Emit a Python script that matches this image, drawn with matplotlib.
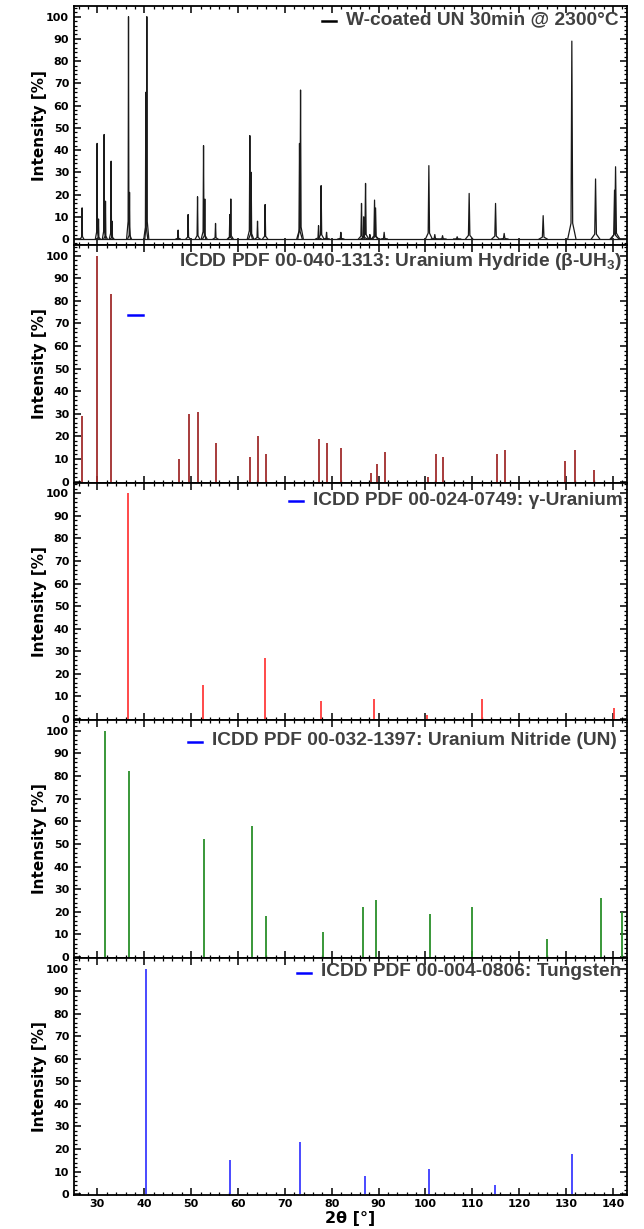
import matplotlib
matplotlib.use("Agg")
import matplotlib.pyplot as plt
from matplotlib.ticker import MultipleLocator
from matplotlib.font_manager import FontProperties

# ---------------- data ----------------
meas_pos = [26.73, 29.93, 30.23, 31.43, 31.72, 32.92, 33.13, 36.63, 36.85, 40.32, 40.54,
            47.22, 49.35, 51.36, 52.64, 52.91, 55.20, 58.25, 58.46, 62.52, 62.80, 64.16,
            65.78, 73.12, 73.34, 77.18, 77.73, 78.89, 81.94, 86.35, 86.85, 87.21, 88.13,
            89.13, 89.35, 91.18, 100.72, 101.99, 103.64, 106.76, 109.32, 114.95, 116.79,
            125.11, 131.23, 136.29, 140.34, 140.56]
meas_int = [14, 43, 9, 47, 17, 35, 8, 100, 21, 66, 100,
            4, 11, 19, 42, 18, 7, 11, 18, 46.5, 30, 8,
            15.5, 43, 67, 6, 24, 3, 3, 16, 10, 25, 2,
            17.5, 14, 3, 33, 2, 1.5, 1, 20.5, 16, 2.5,
            10.5, 89, 27, 22, 32.5]

uh3_pos = [26.73, 29.87, 32.92, 47.30, 49.44, 51.36, 55.20, 62.52, 64.16, 65.87, 77.24,
           78.89, 81.94, 88.28, 89.62, 91.26, 100.44, 102.15, 103.64, 115.16, 116.87,
           129.80, 131.81, 135.93]
uh3_int = [29, 100, 83, 10, 30, 31, 17, 11, 20, 12, 19,
           17, 15, 4, 8, 13, 2, 12, 11, 12, 14,
           9, 14, 5]

gu_pos = [36.42, 52.49, 65.65, 77.60, 88.92, 100.23, 112.03, 140.26]
gu_int = [100, 15, 27, 8, 9, 2, 9, 5]

un_pos = [31.57, 36.63, 52.77, 62.94, 65.96, 78.10, 86.63, 89.47, 101.00, 109.83,
          125.96, 137.48, 141.90]
un_int = [100, 82, 52, 58, 18, 11, 22, 25, 19, 22, 8, 26, 20]

w_pos = [40.26, 58.25, 73.19, 86.99, 100.65, 114.87, 131.17]
w_int = [100, 15, 23, 8, 11, 4, 18]

legend_labels = ["W-coated UN 30min @ 2300°C",
                 "ICDD PDF 00-040-1313: Uranium Hydride (β-UH$_\\mathregular{3}$)",
                 "ICDD PDF 00-024-0749: γ-Uranium",
                 "ICDD PDF 00-032-1397: Uranium Nitride (UN)",
                 "ICDD PDF 00-004-0806: Tungsten"]

stick_colors = ["#a02c2c", "#ff3b3b", "#2a8f2a", "#3b3bff"]
handle_colors = ["#000000", None, "#0000ff", "#0000ff", "#0000ff"]
text_y = [0.941, 0.930, 0.926, 0.912, 0.942]
text_x = [0.9855, 0.990, 0.993, 0.981, 0.990]

# ---------------- figure ----------------
W, H = 644, 1229
fig = plt.figure(figsize=(W / 100, H / 100), dpi=100)
left_px, right_px = 74, 627
tops = [6, 245, 482.5, 720, 958]
bots = [245, 482.5, 720, 958, 1195]
axes = []
for t, b in zip(tops, bots):
    ax = fig.add_axes([left_px / W, 1 - b / H, (right_px - left_px) / W, (b - t) / H])
    axes.append(ax)

tickfp = FontProperties(family="DejaVu Sans", weight="bold", size=8)

for i, ax in enumerate(axes):
    ax.set_xlim(25, 143)
    if i == 0:
        ax.set_ylim(-2.7, 104.8)
    else:
        ax.set_ylim(-0.4, 104.7)
    ax.xaxis.set_major_locator(MultipleLocator(10))
    ax.xaxis.set_minor_locator(MultipleLocator(2))
    ax.yaxis.set_major_locator(MultipleLocator(10))
    ax.yaxis.set_minor_locator(MultipleLocator(2))
    ax.tick_params(which="both", direction="in", top=True, right=True)
    ax.tick_params(which="major", length=5, width=1.1)
    ax.tick_params(which="minor", length=2.5, width=0.9)
    ax.tick_params(axis="y", pad=3.5)
    ax.tick_params(axis="x", pad=3)
    for sp in ax.spines.values():
        sp.set_linewidth(1.3)
    for lab in ax.get_yticklabels():
        lab.set_fontproperties(tickfp)
    if i < 4:
        ax.tick_params(labelbottom=False)
    else:
        for lab in ax.get_xticklabels():
            lab.set_fontproperties(tickfp)
    ax.set_ylabel("Intensity [%]", fontsize=11, fontweight="bold",
                  family="DejaVu Sans", labelpad=-0.5)

# measured pattern: baseline + one narrow peak shape per read peak
ax0 = axes[0]
ax0.plot([25, 143], [0, 0], color="#1a1a1a", lw=0.9)
for p, h in zip(meas_pos, meas_int):
    w = 0.35 + 0.005 * (p - 25)
    ax0.plot([p - w, p - w / 5, p, p + w / 5, p + w],
             [0, 0.08 * h, h, 0.08 * h, 0], color="#1a1a1a", lw=0.9)

# reference sticks
for ax, pos, inten, c in zip(axes[1:], [uh3_pos, gu_pos, un_pos, w_pos],
                             [uh3_int, gu_int, un_int, w_int], stick_colors):
    ax.vlines(pos, 0, inten, colors=c, lw=1.3)

axes[-1].set_xlabel("2θ [°]", fontsize=11.5, fontweight="bold", family="DejaVu Sans",
                    labelpad=1)

# legend-like labels
texts = []
for i, ax in enumerate(axes):
    t = ax.text(text_x[i], text_y[i], legend_labels[i], transform=ax.transAxes,
                ha="right", va="center", fontsize=13.8, fontweight="bold",
                family="Liberation Sans", color="#404040")
    texts.append(t)

fig.canvas.draw()
renderer = fig.canvas.get_renderer()
for i, (ax, t) in enumerate(zip(axes, texts)):
    if handle_colors[i] is None:
        continue
    bb = t.get_window_extent(renderer)
    inv = ax.transAxes.inverted()
    x1 = inv.transform((bb.x0 - 10, 0))[0]
    x0 = inv.transform((bb.x0 - 24, 0))[0]
    yc = text_y[i] - 0.005
    ax.plot([x0, x1], [yc, yc], transform=ax.transAxes, color=handle_colors[i], lw=1.8)

# stray legend handle in the hydride panel
axes[1].plot([0.098, 0.125], [0.705, 0.705], transform=axes[1].transAxes,
             color="#0000ff", lw=1.8)

fig.savefig("out.png", dpi=100)
